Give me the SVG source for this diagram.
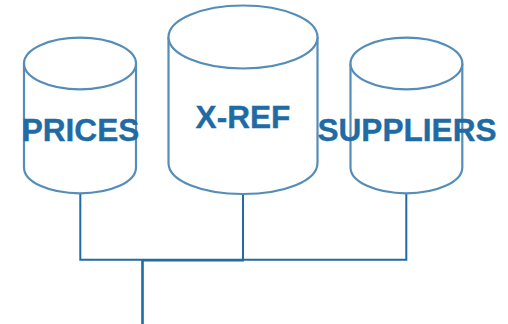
<svg xmlns="http://www.w3.org/2000/svg" width="508" height="324" viewBox="0 0 508 324">
<style>
.c{fill:#fff;stroke:#558db9;stroke-width:2.2}
.l{fill:#206ba4;stroke:#206ba4;stroke-width:.35;font-family:"Liberation Sans",Arial,sans-serif;font-weight:bold;font-size:31.6px;text-anchor:middle}
.w{fill:none;stroke:#206ba4;stroke-width:2}
.t{fill:none;stroke:#206ba4;stroke-width:2.6}
</style>
<g id="connectors">
<path class="w" d="M80.300 193V259.800H406.300V193M243 193V259.800"/>
<path class="t" d="M142.500 260.200H244M142.500 260V324"/>
</g>
<g id="prices">
<path class="c" d="M24 63.500V167.500C24 182 49 193.300 80 193.300S136 182 136 167.500V63.500"/>
<ellipse class="c" cx="80" cy="63.500" rx="56" ry="25.800"/>
<text class="l" x="80.500" y="141">PRICES</text>
</g>
<g id="x-ref">
<path class="c" d="M168.500 37V163C168.500 181 202 194 243 194S317.500 181 317.500 163V37"/>
<ellipse class="c" cx="243" cy="37" rx="74.500" ry="31.500"/>
<text class="l" x="243" y="128">X-REF</text>
</g>
<g id="suppliers">
<path class="c" d="M350.500 63.500V167.500C350.500 182 376 193.300 406.300 193.300S462.300 182 462.300 167.500V63.500"/>
<ellipse class="c" cx="406.400" cy="63.500" rx="55.900" ry="25.800"/>
<text class="l" x="407" y="141">SUPPLIERS</text>
</g>
</svg>
